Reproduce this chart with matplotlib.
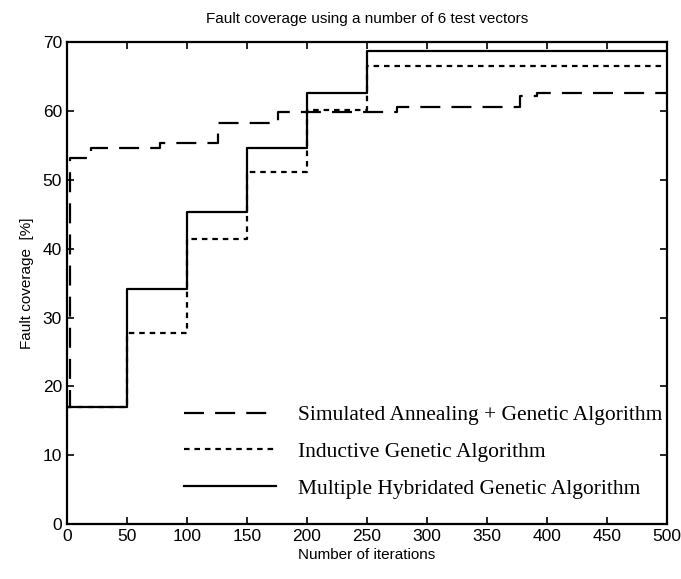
import numpy as np
import matplotlib
matplotlib.use("Agg")
import matplotlib.pyplot as plt

# step data (x = iteration where the new value starts)
sa_x = [0, 3, 20, 78, 126, 176, 275, 378, 392, 500]
sa_y = [17, 53.2, 54.7, 55.3, 58.3, 59.9, 60.6, 62.2, 62.6, 62.6]

iga_x = [0, 50, 100, 150, 200, 250, 500]
iga_y = [17, 27.8, 41.4, 51.1, 60.2, 66.6, 66.6]

mhga_x = [0, 50, 100, 150, 200, 250, 500]
mhga_y = [17, 34.2, 45.4, 54.7, 62.6, 68.8, 68.8]

labels = ["Simulated Annealing + Genetic Algorithm",
          "Inductive Genetic Algorithm",
          "Multiple Hybridated Genetic Algorithm"]

xticks = np.arange(0, 501, 50)
yticks = np.arange(0, 71, 10)

tick_font = ["Liberation Sans", "DejaVu Sans"]

fig = plt.figure(figsize=(6.81, 5.79), dpi=100)
ax = fig.add_axes([0.098, 0.095, 0.881, 0.832])

ax.step(sa_x, sa_y, where="post", color="black", lw=1.6,
        dashes=(9, 5), label=labels[0])
ax.step(iga_x, iga_y, where="post", color="black", lw=1.6,
        dashes=(2.5, 2.2), label=labels[1])
ax.step(mhga_x, mhga_y, where="post", color="black", lw=1.6,
        label=labels[2])

ax.set_xlim(0, 500)
ax.set_ylim(0, 70)
ax.set_xticks(xticks)
ax.set_yticks(yticks)
ax.tick_params(direction="in", top=True, right=True, length=5, width=1.2)
for lab in ax.get_xticklabels() + ax.get_yticklabels():
    lab.set_family(tick_font)
    lab.set_fontsize(12.5)
for s in ax.spines.values():
    s.set_linewidth(1.6)

ax.set_xlabel("Number of iterations", family=tick_font, fontsize=11, labelpad=3)
ax.set_ylabel("Fault coverage  [%]", family=tick_font, fontsize=11, labelpad=6)
ax.set_title("Fault coverage using a number of 6 test vectors",
             family=tick_font, fontsize=11, pad=14)

ax.legend(loc="lower right", bbox_to_anchor=(1.025, 0.012), frameon=False,
          prop={"family": "Liberation Serif", "size": 15.5},
          handlelength=4.3, handletextpad=1.0, labelspacing=0.78)

fig.savefig("out.png", dpi=100)
